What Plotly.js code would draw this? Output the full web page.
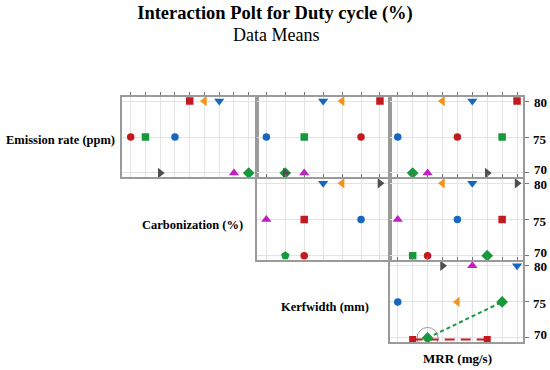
<!DOCTYPE html>
<html>
<head>
<meta charset="utf-8">
<script src="https://cdn.plot.ly/plotly-3.0.1.min.js"></script>
<style>html,body{margin:0;padding:0;background:#fff;}#chart{width:550px;height:370px;}</style>
</head>
<body>
<div id="chart"></div>
<script>
// ---- DATA ----
// grid positions (level index along each panel's x scale), means (y) and level keys
const p11X = [1, 2, 4, 5, 6, 7, 3, 8, 9];
const p11Y = [75, 75, 75, 80, 80, 80, 70, 70, 70];
const p11L = ['A', 'B', 'C', 'D', 'E', 'F', 'G', 'H', 'I'];

const p12X = [1, 3, 6, 4, 5, 7, 2, 2, 3];
const p12Y = [75, 75, 75, 80, 80, 80, 70, 70, 70];
const p12L = ['C', 'B', 'A', 'F', 'E', 'D', 'I', 'G', 'H'];

const p13X = [1, 5, 8, 4, 6, 9, 2, 3, 7];
const p13Y = [75, 75, 75, 80, 80, 80, 70, 70, 70];
const p13L = ['C', 'A', 'B', 'E', 'F', 'D', 'I', 'H', 'G'];

const p22X = [1, 3, 6, 4, 5, 7, 2, 3];
const p22Y = [75, 75, 75, 80, 80, 80, 70, 70];
const p22L = ['H', 'D', 'C', 'F', 'E', 'G', 'J', 'A'];

const p23X = [1, 5, 8, 4, 6, 9, 2, 3, 7];
const p23Y = [75, 75, 75, 80, 80, 80, 70, 70, 70];
const p23L = ['H', 'C', 'D', 'E', 'F', 'G', 'B', 'A', 'I'];

const p33X = [4, 6, 9, 1, 5];
const p33Y = [80, 80, 80, 75, 75];
const p33L = ['G', 'H', 'F', 'C', 'E'];

// connected series in the Kerfwidth / MRR panel
const kerfGreenX = [3, 8];
const kerfGreenY = [70, 75];
const kerfRedX = [2, 7];
const kerfRedY = [69.8, 69.8];
const kerfHighlightX = [3];
const kerfHighlightY = [70];

const yTicks = [70, 75, 80];
const yTickText = ['70', '75', '80'];
const rowLabels = ['Emission rate (ppm)', 'Carbonization (%)', 'Kerfwidth (mm)'];
const colLabel = 'MRR (mg/s)';
const titleText = 'Interaction Polt for Duty cycle (%)';
const subtitleText = 'Data Means';

// ---- STYLES ----
const RED = '#c41a1f', GREEN = '#15993c', BLUE = '#1867be', ORANGE = '#f5921e', MAG = '#c21ec4', GRAY = '#4f4f4f';
const style = {
  A: {symbol: 'circle', color: RED},
  B: {symbol: 'square', color: GREEN},
  C: {symbol: 'circle', color: BLUE},
  D: {symbol: 'square', color: RED},
  E: {symbol: 'triangle-left', color: ORANGE},
  F: {symbol: 'triangle-down', color: BLUE},
  G: {symbol: 'triangle-right', color: GRAY},
  H: {symbol: 'triangle-up', color: MAG},
  I: {symbol: 'diamond', color: GREEN},
  J: {symbol: 'pentagon', color: GREEN}
};
const W = 550, H = 370;
const FONT = 'Liberation Serif, Times New Roman, serif';
const tickShift = {80: -1, 75: -2, 70: 3};

// panel geometry in pixels
const cols = [[122.3, 256.7, 0.43, 9.54, 9], [256.7, 390, 0.49, 7.53, 7], [390, 523.3, 0.48, 9.42, 9]];
const rows = [[96.7, 177.3], [179, 260], [261.5, 342.3]];
const panels = [
  {r: 0, c: 0, x: p11X, y: p11Y, l: p11L},
  {r: 0, c: 1, x: p12X, y: p12Y, l: p12L},
  {r: 0, c: 2, x: p13X, y: p13Y, l: p13L},
  {r: 1, c: 1, x: p22X, y: p22Y, l: p22L},
  {r: 1, c: 2, x: p23X, y: p23Y, l: p23L},
  {r: 2, c: 2, x: p33X, y: p33Y, l: p33L}
];

const layout = {
  width: W, height: H,
  margin: {l: 0, r: 0, t: 0, b: 0},
  paper_bgcolor: '#fff', plot_bgcolor: '#fff',
  showlegend: false,
  title: {text: '<b>' + titleText + '</b>', font: {family: FONT, size: 18.5, color: '#000'},
          x: 0.5, xanchor: 'center', y: 1 - 13 / H, yanchor: 'middle', xref: 'paper', yref: 'container'},
  annotations: [],
  shapes: []
};
const traces = [];

panels.forEach((p, i) => {
  const n = i + 1;
  const xa = 'xaxis' + (n === 1 ? '' : n), ya = 'yaxis' + (n === 1 ? '' : n);
  const xr = 'x' + (n === 1 ? '' : n), yr = 'y' + (n === 1 ? '' : n);
  const c = cols[p.c], r = rows[p.r];
  const ticks = [];
  for (let k = 1; k <= c[4]; k++) ticks.push(k);
  layout[xa] = {
    domain: [c[0] / W, c[1] / W], anchor: yr, range: [c[2], c[3]],
    side: 'top', tickvals: ticks, ticks: 'outside', ticklen: 3, tickwidth: 1, tickcolor: '#777',
    showticklabels: false, showgrid: true, gridcolor: '#e4e4e4', gridwidth: 1, zeroline: false,
    showline: true, mirror: true, linecolor: '#9a9a9a', linewidth: 2, fixedrange: true
  };
  const right = p.c === 2;
  layout[ya] = {
    domain: [1 - r[1] / H, 1 - r[0] / H], anchor: xr, range: [69.4, 80.6],
    tickvals: yTicks, side: right ? 'right' : 'left',
    showticklabels: false, ticks: right ? 'outside' : '', ticklen: 4, tickcolor: '#777',
    showgrid: true, gridcolor: '#e4e4e4', gridwidth: 1, zeroline: false,
    showline: true, mirror: true, linecolor: '#9a9a9a', linewidth: 2, fixedrange: true
  };
  if (right) {
    yTicks.forEach((v, k) => {
      layout.annotations.push({text: '<b>' + yTickText[k] + '</b>', x: 540 / W, y: v, xref: 'paper', yref: yr,
        xanchor: 'center', yanchor: 'middle', yshift: tickShift[v], showarrow: false,
        font: {family: FONT, size: 13, color: '#000'}});
    });
  }
  if (n === 6) {
    traces.push({x: kerfHighlightX, y: kerfHighlightY, xaxis: xr, yaxis: yr, type: 'scatter', mode: 'markers',
      marker: {symbol: 'circle-open', size: 21, color: '#9a9a9a', opacity: 1, line: {width: 1}}, hoverinfo: 'skip'});
    traces.push({x: kerfRedX, y: kerfRedY, xaxis: xr, yaxis: yr, type: 'scatter', mode: 'lines+markers',
      line: {color: RED, width: 2, dash: '10px,6px'}, marker: {symbol: 'square', size: 7, color: RED, opacity: 1}});
    traces.push({x: kerfGreenX, y: kerfGreenY, xaxis: xr, yaxis: yr, type: 'scatter', mode: 'lines+markers',
      line: {color: GREEN, width: 2, dash: '4px,3px'}, marker: {symbol: 'diamond', size: 9, color: GREEN, opacity: 1}});
  }
  traces.push({
    x: p.x, y: p.y, xaxis: xr, yaxis: yr, type: 'scatter', mode: 'markers',
    marker: {
      symbol: p.l.map(k => style[k].symbol),
      color: p.l.map(k => style[k].color),
      size: p.l.map(k => style[k].symbol === 'circle' || style[k].symbol === 'square' ? 7.5 : 9),
      opacity: 1,
      line: {width: 0}
    }
  });
});

function ann(text, xp, yp, size, bold) {
  layout.annotations.push({text: bold ? '<b>' + text + '</b>' : text, x: xp / W, y: 1 - yp / H,
    xref: 'paper', yref: 'paper', xanchor: 'center', yanchor: 'middle', showarrow: false,
    font: {family: FONT, size: size, color: '#000'}});
}
ann(subtitleText, 276, 35, 18, false);
ann(rowLabels[0], 60, 139.5, 12.5, true);
ann(rowLabels[1], 192, 224.5, 12.5, true);
ann(rowLabels[2], 325, 306.5, 12.5, true);
ann(colLabel, 457, 358, 13, true);

Plotly.newPlot('chart', traces, layout, {staticPlot: true, displayModeBar: false});
</script>
</body>
</html>
